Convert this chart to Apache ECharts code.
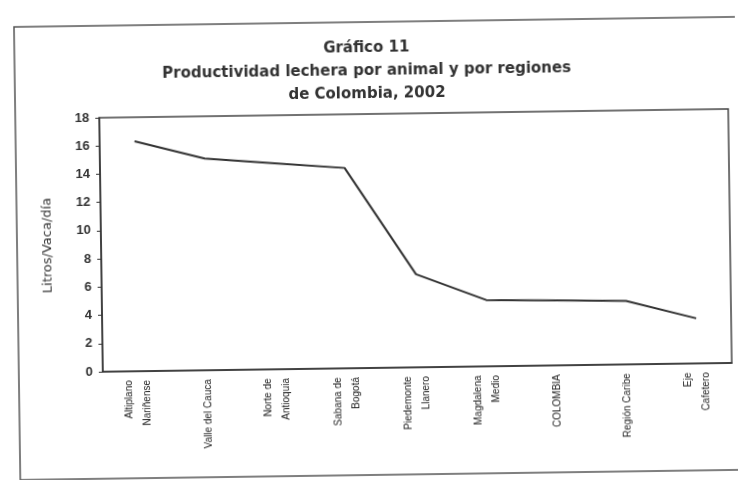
<!DOCTYPE html>
<html>
<head>
<meta charset="utf-8">
<script src="https://cdn.jsdelivr.net/npm/echarts@6/dist/echarts.min.js"></script>
<style>
html,body{margin:0;padding:0;background:#fff;}
#chart{width:738px;height:480px;transform:rotate(-0.8deg);transform-origin:50% 50%;}
</style>
</head>
<body>
<div id="chart"></div>
<script>
const categories = [
  "Altiplano\nNariñense",
  "Valle del Cauca",
  "Norte de\nAntioquia",
  "Sabana de\nBogotá",
  "Piedemonte\nLlanero",
  "Magdalena\nMedio",
  "COLOMBIA",
  "Región Caribe",
  "Eje\nCafetero"
];
const productividad = [16.3, 15.0, 14.6, 14.2, 6.6, 4.7, 4.6, 4.5, 3.2];
const titleLines = ["Gráfico 11", "Productividad lechera por animal y por regiones", "de Colombia, 2002"];
const yAxisName = "Litros/Vaca/día";

const chart = echarts.init(document.getElementById('chart'), null, {renderer: 'canvas'});
chart.setOption({
  backgroundColor: '#fff',
  animation: false,
  title: {
    text: titleLines.join('\n'),
    left: 'center',
    top: 32,
    textStyle: {
      fontFamily: 'DejaVu Sans',
      fontWeight: 'bold',
      fontSize: 15,
      lineHeight: 23,
      color: '#333'
    }
  },
  graphic: [{
    type: 'rect',
    shape: {x: 17, y: 22, width: 740, height: 453},
    style: {fill: 'none', stroke: '#555', lineWidth: 1.5},
    silent: true
  }],
  grid: {left: 101, right: 8, top: 114, bottom: 112, show: true, borderColor: '#444', borderWidth: 1.5, backgroundColor: 'transparent'},
  xAxis: {
    type: 'category',
    data: categories,
    boundaryGap: true,
    axisLine: {lineStyle: {color: '#333', width: 1.5}},
    axisTick: {show: false},
    axisLabel: {
      rotate: 90,
      interval: 0,
      fontFamily: 'Liberation Sans',
      fontSize: 10,
      lineHeight: 18,
      color: '#222',
      margin: 9
    }
  },
  yAxis: {
    type: 'value',
    min: 0,
    max: 18,
    interval: 2,
    name: yAxisName,
    nameLocation: 'middle',
    nameGap: 47,
    nameTextStyle: {fontFamily: 'DejaVu Sans', fontSize: 13, color: '#333'},
    axisLine: {show: true, lineStyle: {color: '#333', width: 1.5}},
    axisTick: {show: true, length: 4, lineStyle: {color: '#333'}},
    splitLine: {show: false},
    axisLabel: {fontFamily: 'Liberation Sans', fontWeight: 'bold', fontSize: 13, color: '#333', margin: 10}
  },
  series: [{
    type: 'line',
    data: productividad,
    showSymbol: false,
    symbol: 'none',
    lineStyle: {color: '#333', width: 2},
    silent: true
  }]
});
</script>
</body>
</html>
